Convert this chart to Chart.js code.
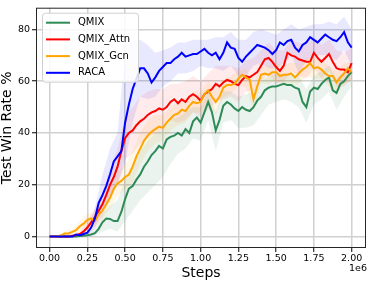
<!DOCTYPE html>
<html>
<head>
<meta charset="utf-8">
<script src="https://cdn.jsdelivr.net/npm/chart.js@4.4.0/dist/chart.umd.min.js"></script>
<style>
  body { margin: 0; background: #fff; }
</style>
</head>
<body>
<canvas id="winChart" width="368" height="282"></canvas>
<script>
// steps in units of 1e6
const steps = [0,0.025,0.05,0.075,0.1,0.125,0.15,0.175,0.2,0.225,
  0.25,0.275,0.3,0.325,0.35,0.375,0.4,0.425,0.45,0.475,
  0.5,0.525,0.55,0.575,0.6,0.625,0.65,0.675,0.7,0.725,
  0.75,0.775,0.8,0.825,0.85,0.875,0.9,0.925,0.95,0.975,
  1,1.025,1.05,1.075,1.1,1.125,1.15,1.175,1.2,1.225,
  1.25,1.275,1.3,1.325,1.35,1.375,1.4,1.425,1.45,1.475,
  1.5,1.525,1.55,1.575,1.6,1.625,1.65,1.675,1.7,1.725,
  1.75,1.775,1.8,1.825,1.85,1.875,1.9,1.925,1.95,1.975,2];

const qmix = [0,0,0,0,0,0,0,0,0.2,0.3,
  0.5,0.8,1.3,3,5.5,7,6.8,6,6,9.5,
  14.5,18.5,19.5,22,24,27,29,31.5,33,35,
  34,37.5,38.5,39,40,39,41.5,40,44.5,46,
  44,48,52,48,41,45,50.5,52,51,49.5,
  48.5,50,49,48.5,50,52.5,54,56.5,57.5,58,
  58,58.5,59,58.5,58.5,57.5,57,52,50,56,
  57.5,57,59,60.5,61.5,56.5,55.5,59,60,62,63.5];
const qmixAttn = [0,0,0,0,0,0,0.3,0.5,1,2,
  3.5,5.5,7.5,10,12.5,16,20,23,27,33,
  38,40,41,43,44.5,45.5,47,48,48.5,49.5,
  49,50,52,53,51.5,53,52,54,55,54,
  52.5,55,56,57,59,58,59.5,60.5,60,59,
  58.5,60.5,62,61.5,62.5,63.5,66,68.5,69,67.5,
  65.5,64,66,71,70,69.5,68.5,68,67.5,67.5,
  71,69,67.5,69,70.5,67.5,65,64.5,64.5,63.5,67];
const qmixGcn = [0,0,0,0.5,1.2,1.2,1.8,2.5,4,5,
  6.5,7,6,8.5,10,12.5,15,18.5,20.5,21.5,
  23,24,27,31,34,37,39,40.5,41.5,42.5,
  42,44,45.5,47,47.5,49,48.5,50.5,52,51.5,
  52,55,56.5,54,52,54,57.5,58.5,58.5,59,
  61,62.5,61.5,60.5,53,58,62.5,63,62.5,63.5,
  63.5,62,62.5,62.5,63,61.5,63,64.5,65.5,67,
  65,65.5,64.5,63,62,62,59.5,61.5,63,65,63.5];
const raca = [0,0,0,0,0,0,0,0.8,0.5,1,
  1.5,3.5,7,13,16,19.5,24,29,31,33,
  44,51,57,61,65,65,63,59.5,61.5,64,
  65.5,67,67,68.5,69.5,71,69.5,70,70.5,70.5,
  71.5,72.5,71,70,71,68.5,71,75,73,72.5,
  69,67.5,69.5,71,72.5,74,73.5,73,72,70.5,
  72,75,74,75.5,76,73,71.5,74,75,77,
  76,75,76.5,78,77,76,75.5,77,79,75,73];

// spread bands, sampled every 0.05e6
const bandSteps = [0,0.05,0.1,0.15,0.2,0.25,0.3,0.35,0.4,0.45,
  0.5,0.55,0.6,0.65,0.7,0.75,0.8,0.85,0.9,0.95,
  1,1.05,1.1,1.15,1.2,1.25,1.3,1.35,1.4,1.45,
  1.5,1.55,1.6,1.65,1.7,1.75,1.8,1.85,1.9,1.95,2];
const qmixHi = [0,0,0,0,0.5,1.5,3,9,12,14,22,28,33,37,40,41,45,46,48,50,50,56,48,56,56,54,55,56,60,62,63,63,63,62,57,62,64,66,61,64,67];
const qmixLo = [0,0,0,0,0,0,0.2,2,3,2,6,10,14,17,20,23,28,32,34,38,37,45,33,44,45,42,42,43,47,51,52,53,52,50,44,51,53,56,49,54,58];
const attnHi = [0,0,0,1,2,6,11,17,26,34,46,50,54,56,57,57,59,59,60,62,60,63,66,66,66,65,68,69,72,75,72,72,76,75,74,77,74,76,72,71,73];
const attnLo = [0,0,0,0,0,1.5,4,8,14,20,30,32,36,38,40,41,45,44,45,48,46,49,52,53,54,52,56,56,60,63,59,60,64,62,61,65,61,64,58,58,61];
const gcnHi = [0,0,2,3,6,9,9,13,19,25,28,33,40,45,47,47,50,52,53,56,56,60,57,61,62,64,65,59,66,66,67,66,67,67,69,69,68,66,64,67,67];
const gcnLo = [0,0,0.3,0.8,2,4,3.5,7,11,16,18,21,28,33,36,37,41,43,44,48,48,52,47,54,55,58,58,48,59,59,60,59,59,59,62,61,61,58,55,59,60];
const racaHi = [0,0,0,0,1.5,3,11,24,34,40,72,76,76,74,71,72,73,75,75,76,76,76,77,77,79,76,76,79,80,79,78,80,82,80,81,82,82,83,82,85,80];
const racaLo = [0,0,0,0,0,0.5,3,10,15,20,28,44,54,53,54,58,60,63,63,64,66,65,65,64,66,62,62,66,67,65,65,67,70,63,68,70,70,70,68,72,66];

const xTicks = [0,0.25,0.5,0.75,1,1.25,1.5,1.75,2];
const yTicks = [0,20,40,60,80];

const pts = (xs, ys) => xs.map((x, i) => ({x: x, y: ys[i]}));

function line(label, ys, color, order) {
  return { label: label, data: pts(steps, ys), borderColor: color, borderWidth: 2,
    pointRadius: 0, fill: false, order: order };
}
function band(hi, lo, color, order) {
  return [
    { label: '', data: pts(bandSteps, hi), borderWidth: 0, pointRadius: 0, backgroundColor: color, fill: '+1', order: order },
    { label: '', data: pts(bandSteps, lo), borderWidth: 0, pointRadius: 0, fill: false, order: order }
  ];
}

const datasets = [
  line('QMIX', qmix, '#2e8b57', 3),
  line('QMIX_Attn', qmixAttn, '#ff0000', 2),
  line('QMIX_Gcn', qmixGcn, '#ffa500', 1),
  line('RACA', raca, '#0000ff', 0),
  ...band(qmixHi, qmixLo, 'rgba(46,139,87,0.10)', 10),
  ...band(attnHi, attnLo, 'rgba(255,0,0,0.08)', 11),
  ...band(gcnHi, gcnLo, 'rgba(255,165,0,0.10)', 12),
  ...band(racaHi, racaLo, 'rgba(0,0,255,0.09)', 13)
];

const font = 'DejaVu Sans';

const framePlugin = {
  id: 'frame',
  afterDatasetsDraw(chart) {
    const {ctx, chartArea: a} = chart;
    ctx.save();
    ctx.strokeStyle = '#262626';
    ctx.lineWidth = 1;
    ctx.strokeRect(a.left + 0.5, a.top + 0.5, a.right - a.left - 1, a.bottom - a.top - 1);
    ctx.restore();
  }
};

const boxLegend = {
  id: 'boxLegend',
  afterDraw(chart) {
    const {ctx, chartArea: a} = chart;
    const x0 = a.left + 6, y0 = a.top + 5;
    ctx.save();
    ctx.fillStyle = 'rgba(255,255,255,0.85)';
    ctx.strokeStyle = '#d0d0d0';
    ctx.lineWidth = 1;
    ctx.beginPath();
    ctx.roundRect(x0 + 0.5, y0 + 0.5, 96, 69, 3);
    ctx.fill();
    ctx.stroke();
    ctx.font = '10px "' + font + '"';
    ctx.textBaseline = 'middle';
    chart.data.datasets.filter(d => d.label).forEach((d, i) => {
      const y = y0 + 10 + i * 16.7;
      ctx.strokeStyle = d.borderColor;
      ctx.lineWidth = 2;
      ctx.beginPath();
      ctx.moveTo(x0 + 4, y);
      ctx.lineTo(x0 + 28, y);
      ctx.stroke();
      ctx.fillStyle = '#000';
      ctx.fillText(d.label, x0 + 36, y);
    });
    ctx.font = '9.5px "' + font + '"';
    ctx.textAlign = 'right';
    ctx.fillText('1e6', a.right + 1, 269);
    ctx.restore();
  }
};

new Chart(document.getElementById('winChart'), {
  type: 'line',
  data: { datasets: datasets },
  options: {
    responsive: false,
    animation: false,
    layout: { padding: { top: 2, right: 2, left: 0, bottom: 0 } },
    plugins: { legend: { display: false }, tooltip: { enabled: false } },
    elements: { line: { tension: 0 } },
    scales: {
      x: {
        type: 'linear', min: -0.09, max: 2.095,
        afterBuildTicks: s => { s.ticks = xTicks.map(v => ({value: v})); },
        afterFit: s => { s.height = 34; },
        ticks: { autoSkip: false, maxRotation: 0, padding: 1, color: '#000',
          font: { family: font, size: 9.5 }, callback: v => v.toFixed(2) },
        grid: { color: '#d0d0d0', lineWidth: 1.5, tickColor: '#000', tickLength: 4, tickWidth: 1 },
        border: { display: false },
        title: { display: true, text: 'Steps', color: '#000', padding: 0,
          font: { family: font, size: 14, lineHeight: 1.2 } }
      },
      y: {
        type: 'linear', min: -4.4, max: 88.4,
        afterBuildTicks: s => { s.ticks = yTicks.map(v => ({value: v})); },
        afterFit: s => { s.width = 36; },
        ticks: { padding: 2, color: '#000', font: { family: font, size: 9.5 } },
        grid: { color: '#d0d0d0', lineWidth: 1.5, tickColor: '#000', tickLength: 4, tickWidth: 1 },
        border: { display: false },
        title: { display: true, text: 'Test Win Rate %', color: '#000', padding: 0,
          font: { family: font, size: 14, lineHeight: 1.1 } }
      }
    }
  },
  plugins: [framePlugin, boxLegend]
});
</script>
</body>
</html>
